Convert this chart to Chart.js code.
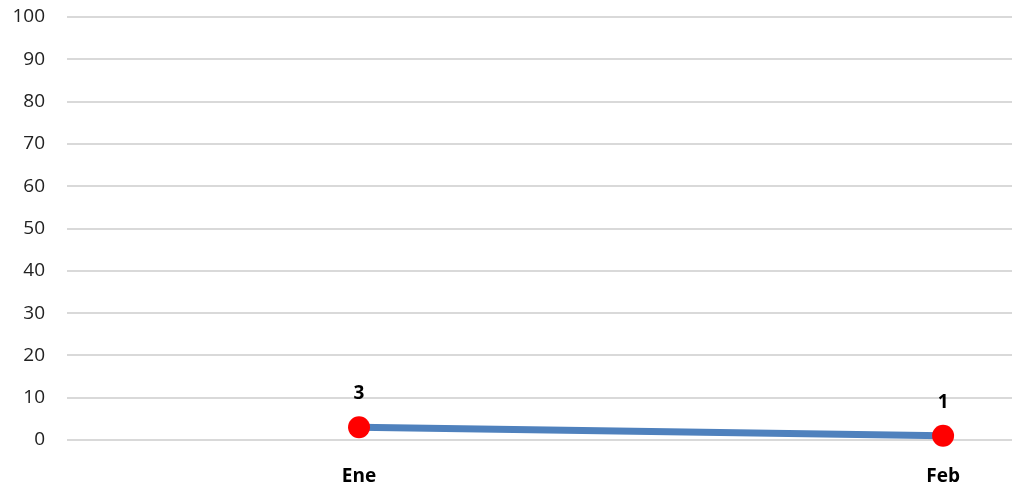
<!DOCTYPE html>
<html>
<head>
<meta charset="utf-8">
<script src="https://cdn.jsdelivr.net/npm/chart.js@4"></script>
<style>
  html, body { margin: 0; padding: 0; background: #fff; }
  #wrap { width: 1013px; height: 487px; }
</style>
</head>
<body>
<div id="wrap"><canvas id="c" width="1013" height="487"></canvas></div>
<script>
// Months shown on the horizontal axis and their positions on it
const months = ['Ene', 'Feb'];
const monthPos = [1, 2];
// Monthly values
const values = [3, 1];
// Vertical axis range
const yMin = 0, yMax = 100, yStep = 10;

const FONT = '"Open Sans", "Noto Sans", sans-serif';

// Writes each value in bold just above its point
const valueLabels = {
  id: 'valueLabels',
  afterDatasetsDraw(chart) {
    const ctx = chart.ctx;
    const meta = chart.getDatasetMeta(0);
    ctx.save();
    ctx.font = 'bold 19px ' + FONT;
    ctx.fillStyle = '#000';
    ctx.textAlign = 'center';
    ctx.textBaseline = 'bottom';
    meta.data.forEach((pt, i) => {
      ctx.fillText(String(values[i]), pt.x, pt.y - 24);
    });
    ctx.restore();
  }
};

new Chart(document.getElementById('c'), {
  type: 'line',
  data: {
    datasets: [{
      data: values.map((v, i) => ({ x: monthPos[i], y: v })),
      borderColor: '#4f81bd',
      borderWidth: 7,
      pointBackgroundColor: '#ff0000',
      pointBorderColor: '#ff0000',
      pointRadius: 11,
      pointBorderWidth: 0,
      tension: 0,
      clip: false
    }]
  },
  options: {
    responsive: false,
    animation: false,
    layout: { autoPadding: false, padding: { top: 17, right: 1, left: 0, bottom: 0 } },
    plugins: { legend: { display: false }, tooltip: { enabled: false } },
    scales: {
      x: {
        type: 'linear',
        min: 0.5,
        max: 2.118,
        afterBuildTicks(scale) { scale.ticks = monthPos.map(v => ({ value: v })); },
        afterFit(scale) {
          scale.height = 47;
          scale.paddingLeft = 0;
          scale.paddingRight = 0;
        },
        grid: { display: false, drawTicks: false },
        border: { display: false },
        ticks: {
          padding: 25,
          autoSkip: false,
          maxRotation: 0,
          color: '#000',
          font: { family: FONT, size: 19, weight: 'bold' },
          callback: (v) => months[monthPos.indexOf(v)] ?? ''
        }
      },
      y: {
        min: yMin,
        max: yMax,
        afterFit(scale) {
          scale.width = 67;
          scale.paddingTop = 0;
          scale.paddingBottom = 0;
        },
        grid: { color: '#d9d9d9', lineWidth: 2, drawTicks: false },
        border: { display: false },
        ticks: {
          stepSize: yStep,
          padding: 22,
          color: '#222',
          font: { family: FONT, size: 19 }
        }
      }
    }
  },
  plugins: [valueLabels]
});
</script>
</body>
</html>
